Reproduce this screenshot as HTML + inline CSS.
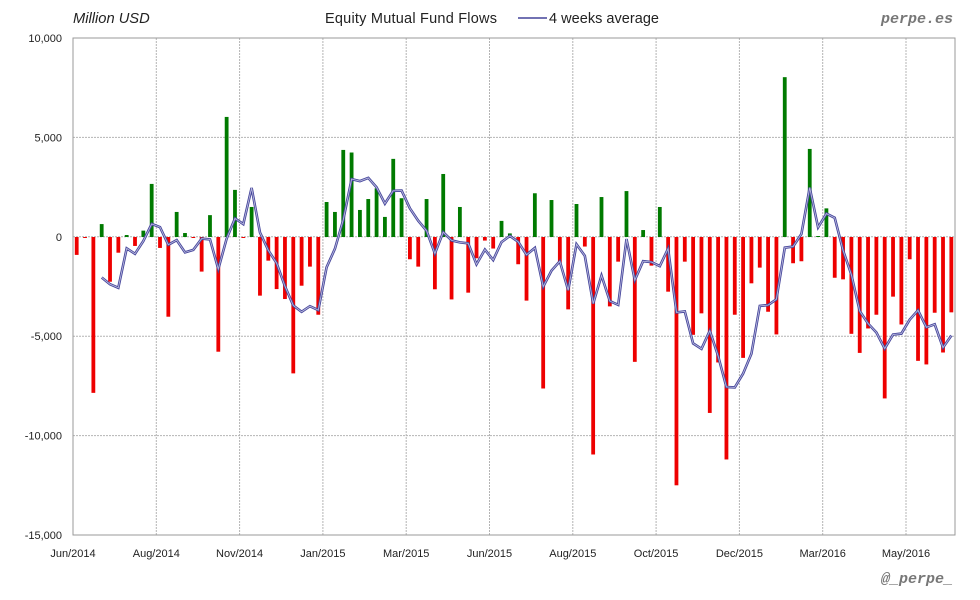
<!DOCTYPE html>
<html><head><meta charset="utf-8"><style>
html,body{margin:0;padding:0;background:#fff;}
svg{display:block;font-family:"Liberation Sans","DejaVu Sans",sans-serif;}
</style></head><body>
<svg id="c" width="980" height="600" xmlns="http://www.w3.org/2000/svg">
<rect width="980" height="600" fill="#fff"/>
<g id="grid"></g>
<g id="bars"></g>
<g id="line"></g>
<rect x="73" y="38" width="882" height="497" fill="none" stroke="#999" stroke-width="1"/>
<g id="labels" font-size="11" fill="#222"></g>
<text x="73" y="23" font-size="14.7" font-style="italic" fill="#222">Million USD</text>
<text x="325" y="23" font-size="14.5" fill="#222" textLength="172">Equity Mutual Fund Flows</text>
<line x1="518" y1="18" x2="547" y2="18" stroke="#44449a" stroke-width="1.5"/>
<text x="549" y="23" font-size="14.5" fill="#222" textLength="110">4 weeks average</text>
<text x="953" y="23" font-size="15" font-weight="bold" font-style="italic" fill="#777" text-anchor="end" font-family="Liberation Mono,monospace">perpe.es</text>
<text x="953" y="583" font-size="15" font-weight="bold" font-style="italic" fill="#777" text-anchor="end" font-family="Liberation Mono,monospace">@_perpe_</text>
</svg>
<script>
var v=[-900,-50,-7840,650,-2250,-790,100,-450,320,2670,-550,-4010,1260,200,-50,-1740,1100,-5770,6040,2370,-50,1510,-2950,-1190,-2620,-3120,-6860,-2450,-1490,-3910,1760,1260,4380,4250,1360,1910,2450,1010,
3930,1950,-1120,-1490,1910,-2630,3170,-3140,1510,-2800,-1070,-180,-580,810,180,-1370,-3200,2200,-7620,1860,-1320,-3640,1660,-480,-10940,2010,-3490,-1240,2310,-6280,350,-1440,1510,-2750,-12490,
-1240,-4920,-3840,-8850,-6310,-11190,-3910,-6080,-2330,-1540,-3760,-4900,8040,-1320,-1220,4430,50,1440,-2050,-2130,-4870,-5830,-4600,-3910,-8120,-3000,-4400,-1120,-6230,-6410,-3810,-5810,-3790];
var NS="http://www.w3.org/2000/svg";
function el(t,a,p){var e=document.createElementNS(NS,t);for(var k in a)e.setAttribute(k,a[k]);document.getElementById(p).appendChild(e);return e;}
function Y(x){return 237-x/5000*99.4;}
for(var i=1;i<5;i++){var y=38+i*99.4;el('line',{x1:73,x2:955,y1:y,y2:y,stroke:'#b4b4b4','stroke-dasharray':'2,1'},'grid');}
for(var i=1;i<=10;i++){var x=73+i*83.3;el('line',{x1:x,x2:x,y1:38,y2:535,stroke:'#b4b4b4','stroke-dasharray':'2,1'},'grid');}
var yl=['10,000','5,000','0','-5,000','-10,000','-15,000'];
for(var i=0;i<6;i++){var t=el('text',{x:62,y:42+i*99.4,'text-anchor':'end'},'labels');t.textContent=yl[i];}
var xl=['Jun/2014','Aug/2014','Nov/2014','Jan/2015','Mar/2015','Jun/2015','Aug/2015','Oct/2015','Dec/2015','Mar/2016','May/2016'];
for(var i=0;i<11;i++){var t=el('text',{x:73+i*83.3,y:557,'text-anchor':'middle'},'labels');t.textContent=xl[i];}
for(var i=0;i<v.length;i++){var x=76.7+i*8.33,y=Y(v[i]);el('rect',{x:x-1.9,y:Math.min(y,237),width:3.8,height:Math.max(Math.abs(y-237),0.8),fill:v[i]>=0?'#007a00':'#ee0000'},'bars');}
var pts=[];for(var i=3;i<v.length;i++){var m=(v[i]+v[i-1]+v[i-2]+v[i-3])/4;pts.push((76.7+i*8.33).toFixed(1)+','+Y(m).toFixed(1));}
el('polyline',{points:pts.join(' '),fill:'none',stroke:'#44449a','stroke-width':2.6},'line');
el('polyline',{points:pts.join(' '),fill:'none',stroke:'#b8b8dd','stroke-width':0.9},'line');
</script>
</body></html>
